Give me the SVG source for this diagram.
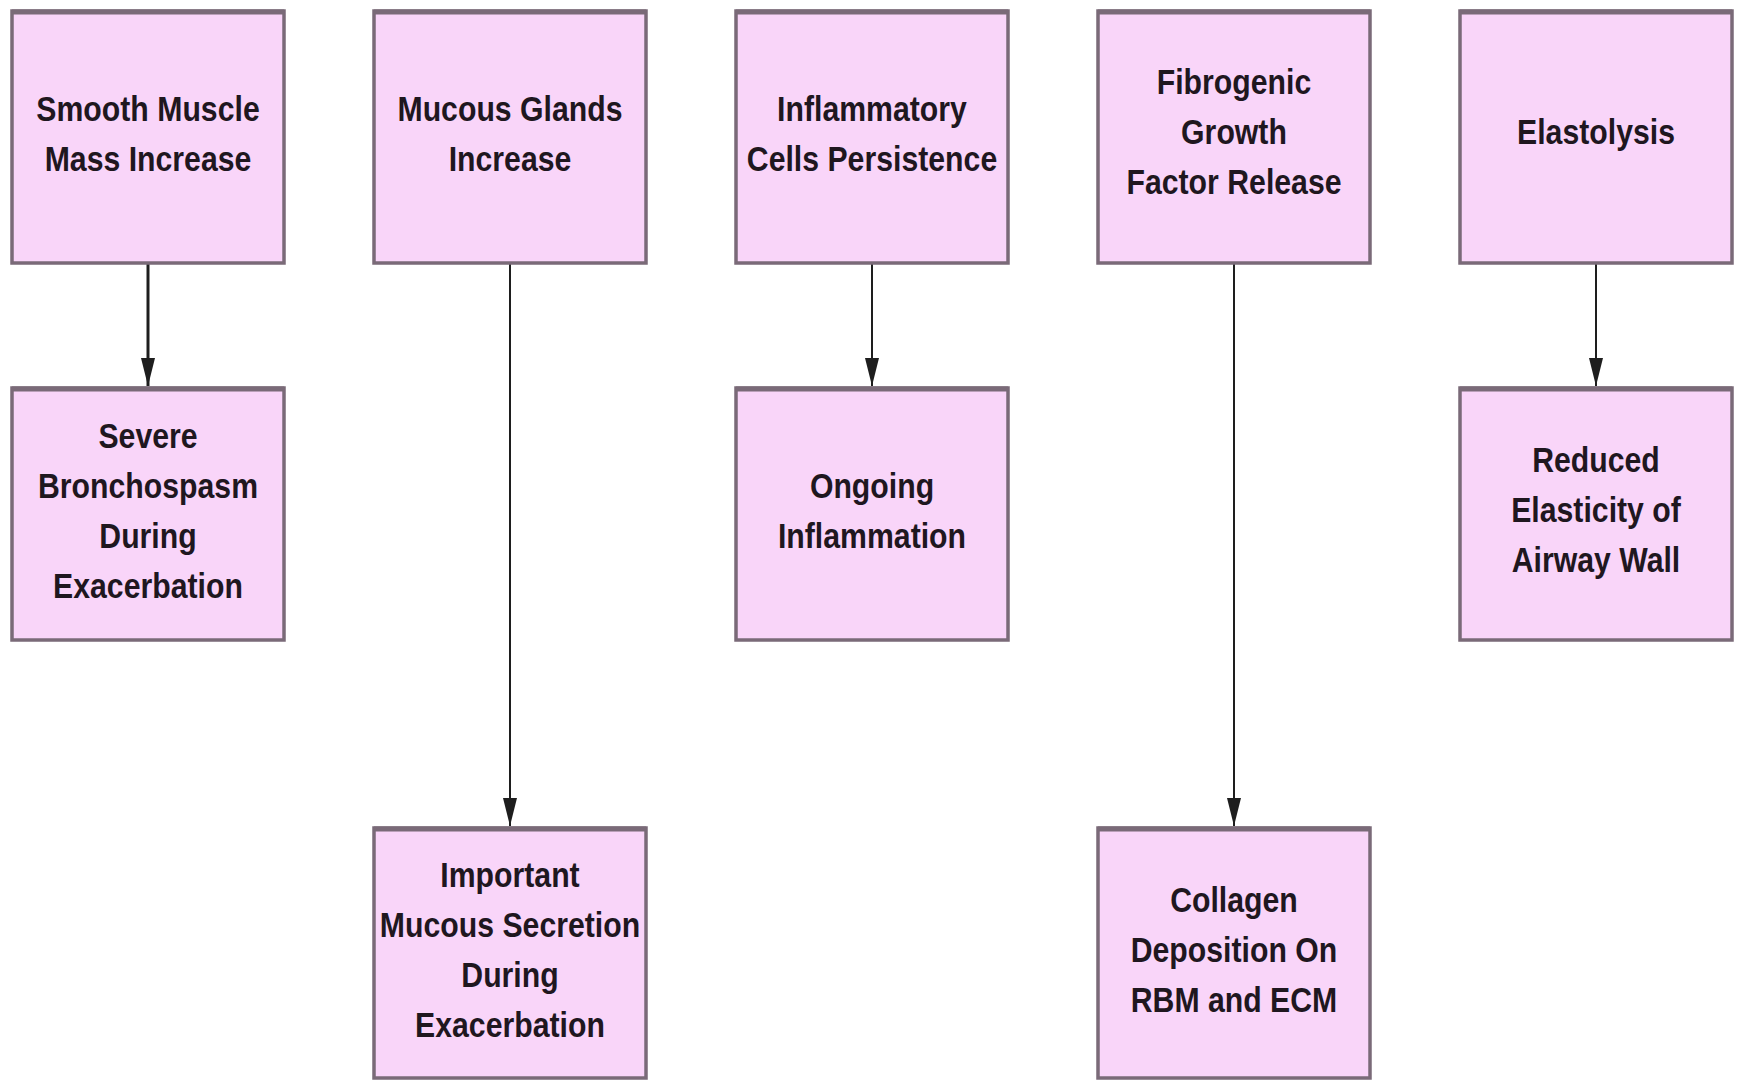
<svg xmlns="http://www.w3.org/2000/svg" width="1739" height="1081" viewBox="0 0 1739 1081">
<style>
.box{fill:#f9d5f9;stroke:#7a6a78;stroke-width:3.5}
.top{stroke:#7a6a78;stroke-width:5}
.lbl{font-family:"Liberation Sans",Arial,sans-serif;font-weight:bold;font-size:36px;fill:#1f171f;text-anchor:middle}
.conn{stroke:#1e1e1e;stroke-width:2;fill:none}
</style>
<defs>
<marker id="arrv" markerUnits="userSpaceOnUse" markerWidth="30" markerHeight="14" refX="28" refY="7" orient="auto" viewBox="0 0 30 14">
<path d="M0,0 L28,7 L0,14 Z" fill="#1e1e1e"/>
</marker>
</defs>
<rect width="1739" height="1081" fill="#ffffff"/>
<g id="connectors">
<line class="conn" x1="148" y1="263" x2="148" y2="386" marker-end="url(#arrv)" style="stroke-width:3"/>
<line class="conn" x1="510" y1="263" x2="510" y2="826" marker-end="url(#arrv)"/>
<line class="conn" x1="872" y1="263" x2="872" y2="386" marker-end="url(#arrv)"/>
<line class="conn" x1="1234" y1="263" x2="1234" y2="826" marker-end="url(#arrv)"/>
<line class="conn" x1="1596" y1="263" x2="1596" y2="386" marker-end="url(#arrv)"/>
</g>
<g id="n1">
<rect class="box" x="12" y="11" width="272" height="252"/><line class="top" x1="12" y1="12" x2="284" y2="12"/>
<text class="lbl" transform="translate(148,0) scale(0.84,1)"><tspan x="0" y="121">Smooth Muscle</tspan><tspan x="0" y="171">Mass Increase</tspan></text>
</g>
<g id="n2">
<rect class="box" x="374" y="11" width="272" height="252"/><line class="top" x1="374" y1="12" x2="646" y2="12"/>
<text class="lbl" transform="translate(510,0) scale(0.84,1)"><tspan x="0" y="121">Mucous Glands</tspan><tspan x="0" y="171">Increase</tspan></text>
</g>
<g id="n3">
<rect class="box" x="736" y="11" width="272" height="252"/><line class="top" x1="736" y1="12" x2="1008" y2="12"/>
<text class="lbl" transform="translate(872,0) scale(0.84,1)"><tspan x="0" y="121">Inflammatory</tspan><tspan x="0" y="171">Cells Persistence</tspan></text>
</g>
<g id="n4">
<rect class="box" x="1098" y="11" width="272" height="252"/><line class="top" x1="1098" y1="12" x2="1370" y2="12"/>
<text class="lbl" transform="translate(1234,0) scale(0.84,1)"><tspan x="0" y="94">Fibrogenic</tspan><tspan x="0" y="144">Growth</tspan><tspan x="0" y="194">Factor Release</tspan></text>
</g>
<g id="n5">
<rect class="box" x="1460" y="11" width="272" height="252"/><line class="top" x1="1460" y1="12" x2="1732" y2="12"/>
<text class="lbl" transform="translate(1596,0) scale(0.84,1)"><tspan x="0" y="144">Elastolysis</tspan></text>
</g>
<g id="n6">
<rect class="box" x="12" y="388" width="272" height="252"/><line class="top" x1="12" y1="389" x2="284" y2="389"/>
<text class="lbl" transform="translate(148,0) scale(0.84,1)"><tspan x="0" y="448">Severe</tspan><tspan x="0" y="498">Bronchospasm</tspan><tspan x="0" y="548">During</tspan><tspan x="0" y="598">Exacerbation</tspan></text>
</g>
<g id="n7">
<rect class="box" x="736" y="388" width="272" height="252"/><line class="top" x1="736" y1="389" x2="1008" y2="389"/>
<text class="lbl" transform="translate(872,0) scale(0.84,1)"><tspan x="0" y="498">Ongoing</tspan><tspan x="0" y="548">Inflammation</tspan></text>
</g>
<g id="n8">
<rect class="box" x="1460" y="388" width="272" height="252"/><line class="top" x1="1460" y1="389" x2="1732" y2="389"/>
<text class="lbl" transform="translate(1596,0) scale(0.84,1)"><tspan x="0" y="472">Reduced</tspan><tspan x="0" y="522">Elasticity of</tspan><tspan x="0" y="572">Airway Wall</tspan></text>
</g>
<g id="n9">
<rect class="box" x="374" y="828" width="272" height="250"/><line class="top" x1="374" y1="829" x2="646" y2="829"/>
<text class="lbl" transform="translate(510,0) scale(0.84,1)"><tspan x="0" y="887">Important</tspan><tspan x="0" y="937">Mucous Secretion</tspan><tspan x="0" y="987">During</tspan><tspan x="0" y="1037">Exacerbation</tspan></text>
</g>
<g id="n10">
<rect class="box" x="1098" y="828" width="272" height="250"/><line class="top" x1="1098" y1="829" x2="1370" y2="829"/>
<text class="lbl" transform="translate(1234,0) scale(0.84,1)"><tspan x="0" y="912">Collagen</tspan><tspan x="0" y="962">Deposition On</tspan><tspan x="0" y="1012">RBM and ECM</tspan></text>
</g>
</svg>
